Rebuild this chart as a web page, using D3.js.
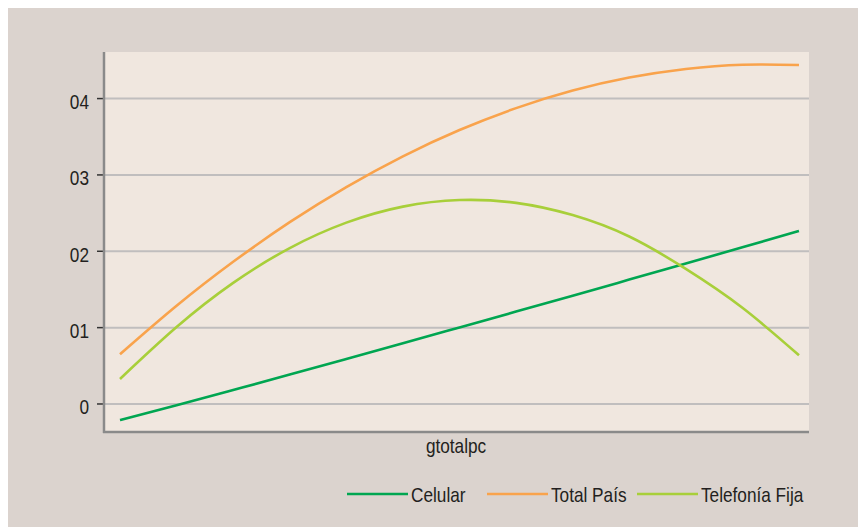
<!DOCTYPE html>
<html><head><meta charset="utf-8">
<script src="https://cdn.jsdelivr.net/npm/d3@7/dist/d3.min.js"></script>
<style>
html,body{margin:0;padding:0;background:#fff;}
svg{display:block;}
text{font-family:"Liberation Sans",Arial,sans-serif;fill:#231f20;}
</style></head><body>
<svg id="chart" width="858" height="527"></svg>
<script>
// gtotalpc positions (evenly spaced points along the x axis)
const gtotalpc = [0,1,2,3,4,5,6,7,8,9,10,11,12];
const celular = [-0.00210,-0.00017,0.00183,0.00385,0.00590,0.00796,0.01003,0.01210,0.01418,0.01629,0.01840,0.02052,0.02267];
const totalPais = [0.00651,0.01286,0.01862,0.02381,0.02841,0.03244,0.03588,0.03875,0.04105,0.04275,0.04388,0.04443,0.04439];
const telefoniaFija = [0.00328,0.01008,0.01586,0.02042,0.02375,0.02585,0.02671,0.02634,0.02474,0.02193,0.01769,0.01260,0.00638];
const yTicks = [0,0.01,0.02,0.03,0.04];
const yTickLabels = ["0","01","02","03","04"];
const seriesNames = ["Celular","Total País","Telefonía Fija"];
const seriesColors = ["#00a651","#f9a34c","#a8cf3a"];
const xTitle = "gtotalpc";

const svg = d3.select("#chart");
const P = {l:105, r:809, t:52, b:432};
const SX = 0.82; // condensed type

function ctext(sel, x, y, str, anchor){
  return sel.append("text").attr("transform",`translate(${x},${y}) scale(${SX},1)`)
    .attr("text-anchor",anchor||"start").attr("font-size",21).text(str);
}

svg.append("rect").attr("x",8).attr("y",8).attr("width",850).attr("height",519).attr("fill","#dbd3ce");
svg.append("rect").attr("x",P.l).attr("y",P.t).attr("width",P.r-P.l).attr("height",P.b-P.t).attr("fill","#f0e7df");

const x = d3.scaleLinear().domain([-0.265, 12.177]).range([P.l, P.r]);
const y = d3.scaleLinear().domain([-0.00367, 0.0461]).range([P.b, P.t]);

// gridlines
svg.append("g").selectAll("line").data(yTicks).join("line")
  .attr("x1",P.l).attr("x2",P.r)
  .attr("y1",d=>y(d)).attr("y2",d=>y(d))
  .attr("stroke","#c0bebe").attr("stroke-width",2);

// y axis ticks + labels
const ya = svg.append("g");
yTicks.forEach((t,i)=>{
  ya.append("line").attr("x1",P.l-8).attr("x2",P.l-1).attr("y1",y(t)).attr("y2",y(t))
    .attr("stroke","#333").attr("stroke-width",1.5);
  ctext(ya, P.l-16, y(t)+10.5, yTickLabels[i], "end");
});

// axis frame lines
svg.append("line").attr("x1",P.l-1).attr("x2",P.l-1).attr("y1",P.t).attr("y2",P.b+1)
  .attr("stroke","#8a8a8a").attr("stroke-width",2.5);
svg.append("line").attr("x1",P.l-2).attr("x2",P.r).attr("y1",P.b).attr("y2",P.b)
  .attr("stroke","#8a8a8a").attr("stroke-width",2.5);

// lines
const series = [celular,totalPais,telefoniaFija];
const line = d3.line().x((d,i)=>x(gtotalpc[i])).y(d=>y(d)).curve(d3.curveNatural);
svg.append("g").selectAll("path").data(series).join("path")
  .attr("d",line).attr("fill","none")
  .attr("stroke",(d,i)=>seriesColors[i]).attr("stroke-width",2.6);

// x title
ctext(svg, (P.l+P.r)/2 - 1, 453, xTitle, "middle");

// legend
const legX = [347,487,637];
const lg = svg.append("g");
seriesNames.forEach((n,i)=>{
  lg.append("line").attr("x1",legX[i]).attr("x2",legX[i]+61).attr("y1",494).attr("y2",494)
    .attr("stroke",seriesColors[i]).attr("stroke-width",2.6);
  ctext(lg, legX[i]+64, 501.5, n, "start");
});
</script>
</body></html>
